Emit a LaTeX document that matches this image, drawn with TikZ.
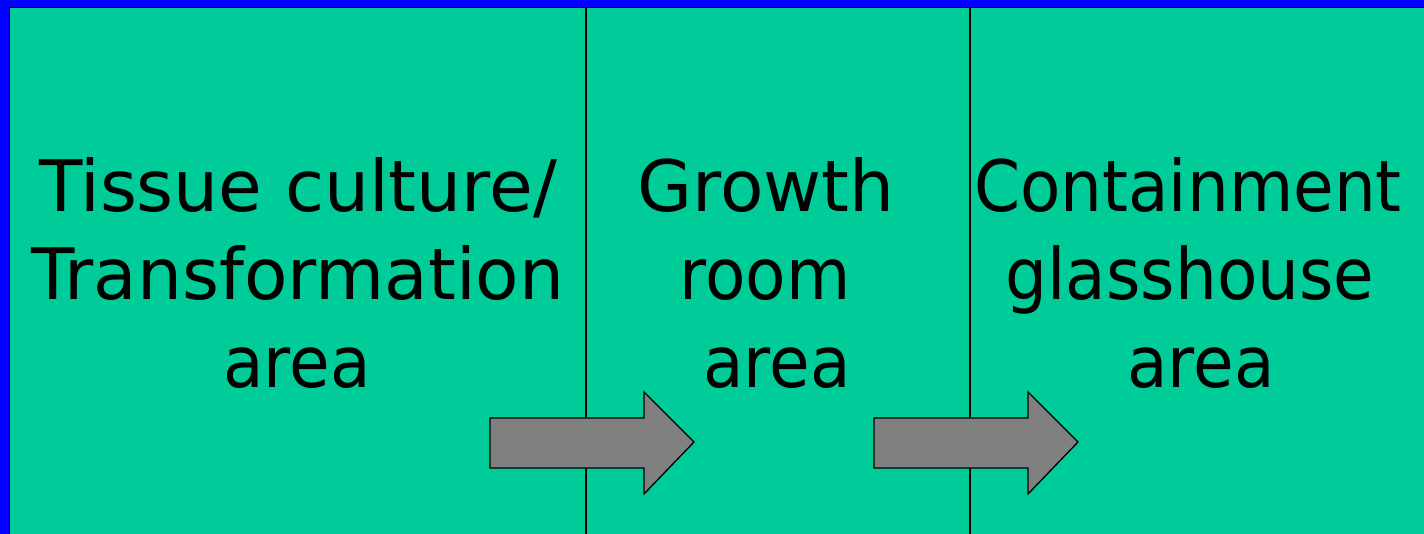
\documentclass[tikz,border=0pt]{standalone}
\usepackage{fontspec}
\setmainfont{DejaVu Sans}
\newfontfamily\narrowfont[FakeStretch=0.93]{DejaVu Sans}
\definecolor{bgblue}{RGB}{0,0,255}
\definecolor{panelgreen}{RGB}{0,204,153}
\definecolor{arrowgray}{RGB}{128,128,128}
\tikzset{
  panel/.style={fill=panelgreen, draw=black, line width=1.5pt},
  divider/.style={draw=black, line width=1.3pt},
  blockarrow/.style={fill=arrowgray, draw=black, line width=1.3pt, line join=miter},
  label/.style={anchor=base, inner sep=0pt, font=\fontsize{71}{88}\selectfont},
  narrowlabel/.style={label, font=\narrowfont\fontsize{71}{88}\selectfont}
}
\begin{document}
\begin{tikzpicture}[x=1pt,y=-1pt]
\useasboundingbox (0,0) rectangle (1424,534);
\fill[bgblue] (0,0) rectangle (1424,534);
\draw[panel] (9.5,7.5) rectangle (1440,550);
% dividers
\coordinate (d1t) at (586,7.5);
\coordinate (d1b) at (586,534);
\coordinate (d2t) at (970,7.5);
\coordinate (d2b) at (970,534);
\draw[divider] (d1t) -- (d1b);
\draw[divider] (d2t) -- (d2b);
% arrows
\draw[blockarrow] (490,418) -- (644,418) -- (644,392) -- (694,442) -- (644,494) -- (644,468) -- (490,468) -- cycle;
\draw[blockarrow] (874,418) -- (1028,418) -- (1028,392) -- (1078,442) -- (1028,494) -- (1028,468) -- (874,468) -- cycle;
% texts
\node[label] (a1) at (298,212) {Tissue culture/};
\node[label] (a2) at (298,300) {Transformation};
\node[narrowlabel] (a3) at (297,388) {area};
\node[label] (b1) at (766,212) {Growth};
\node[narrowlabel] (b2) at (765,300) {room};
\node[narrowlabel] (b3) at (777,388) {area};
\node[narrowlabel] (c1) at (1188,212) {Containment};
\node[narrowlabel] (c2) at (1190,300) {glasshouse};
\node[narrowlabel] (c3) at (1201,388) {area};
\end{tikzpicture}
\end{document}
